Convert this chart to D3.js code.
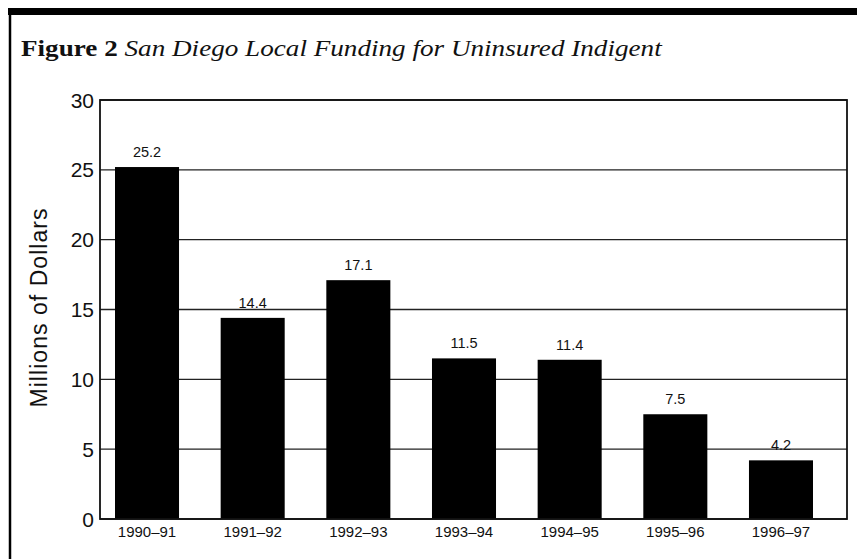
<!DOCTYPE html>
<html>
<head>
<meta charset="utf-8">
<script src="https://cdn.jsdelivr.net/npm/d3@7"></script>
<style>
  body { margin: 0; background: #fff; }
  svg { display: block; }
</style>
</head>
<body>
<svg id="chart"></svg>
<script>
// Data
const years = ["1990–91", "1991–92", "1992–93", "1993–94", "1994–95", "1995–96", "1996–97"];
const funding = [25.2, 14.4, 17.1, 11.5, 11.4, 7.5, 4.2];
const yTicks = [0, 5, 10, 15, 20, 25, 30];

const width = 857, height = 559;
const plot = { left: 100, right: 847, top: 100, bottom: 519 };
const sans = "'Liberation Sans', Arial, Helvetica, sans-serif";
const serif = "'Liberation Serif', 'DejaVu Serif', serif";

const svg = d3.select("#chart")
    .attr("width", width)
    .attr("height", height);

// Frame: thick top rule and left rule
svg.append("rect")
    .attr("x", 8).attr("y", 8)
    .attr("width", width - 8).attr("height", 7)
    .attr("fill", "#000");
svg.append("line")
    .attr("x1", 10).attr("x2", 10)
    .attr("y1", 8).attr("y2", height)
    .attr("stroke", "#000")
    .attr("stroke-width", 2.5);

// Title (stretched horizontally to the width of the original wider serif)
const title = svg.append("text")
    .attr("x", 0).attr("y", 0)
    .attr("font-family", serif)
    .attr("font-size", 22.5)
    .attr("fill", "#111");
title.append("tspan").attr("font-weight", "bold").text("Figure 2");
title.append("tspan").attr("font-style", "italic").text(" San Diego Local Funding for Uninsured Indigent");
const titleW = title.node().getComputedTextLength();
title.attr("transform", `translate(21,56) scale(${641 / titleW},1)`);

// Scales
const x = d3.scaleBand()
    .domain(years)
    .range([115, 813])
    .paddingInner(0.394)
    .paddingOuter(0);

const y = d3.scaleLinear()
    .domain([0, 30])
    .range([plot.bottom, plot.top]);

// Gridlines
svg.append("g")
    .selectAll("line")
    .data(yTicks)
    .join("line")
    .attr("x1", plot.left).attr("x2", plot.right)
    .attr("y1", d => y(d)).attr("y2", d => y(d))
    .attr("stroke", "#222")
    .attr("stroke-width", 1.4);

// Bars
svg.append("g")
    .selectAll("rect")
    .data(funding)
    .join("rect")
    .attr("x", (d, i) => x(years[i]))
    .attr("y", d => y(d))
    .attr("width", x.bandwidth())
    .attr("height", d => y(0) - y(d))
    .attr("fill", "#000");

// Plot border
svg.append("rect")
    .attr("x", plot.left).attr("y", plot.top)
    .attr("width", plot.right - plot.left)
    .attr("height", plot.bottom - plot.top)
    .attr("fill", "none")
    .attr("stroke", "#111")
    .attr("stroke-width", 1.8);

// Value labels
svg.append("g")
    .selectAll("text")
    .data(funding)
    .join("text")
    .attr("x", (d, i) => x(years[i]) + x.bandwidth() / 2)
    .attr("y", d => y(d) - 10)
    .attr("text-anchor", "middle")
    .attr("font-family", sans)
    .attr("font-size", 14.5)
    .attr("fill", "#111")
    .text(d => d.toFixed(1));

// Y tick labels
svg.append("g")
    .selectAll("text")
    .data(yTicks)
    .join("text")
    .attr("x", 94)
    .attr("y", d => y(d))
    .attr("dy", "0.36em")
    .attr("text-anchor", "end")
    .attr("font-family", sans)
    .attr("font-size", 21)
    .attr("fill", "#111")
    .text(d => d);

// X tick labels
svg.append("g")
    .selectAll("text")
    .data(years)
    .join("text")
    .attr("x", d => x(d) + x.bandwidth() / 2)
    .attr("y", 537)
    .attr("text-anchor", "middle")
    .attr("font-family", sans)
    .attr("font-size", 15)
    .attr("fill", "#111")
    .text(d => d);

// Y axis title
svg.append("text")
    .attr("transform", "translate(47,308) rotate(-90)")
    .attr("text-anchor", "middle")
    .attr("font-family", sans)
    .attr("font-size", 23)
    .attr("fill", "#111")
    .attr("textLength", 199)
    .attr("lengthAdjust", "spacing")
    .text("Millions of Dollars");
</script>
</body>
</html>
